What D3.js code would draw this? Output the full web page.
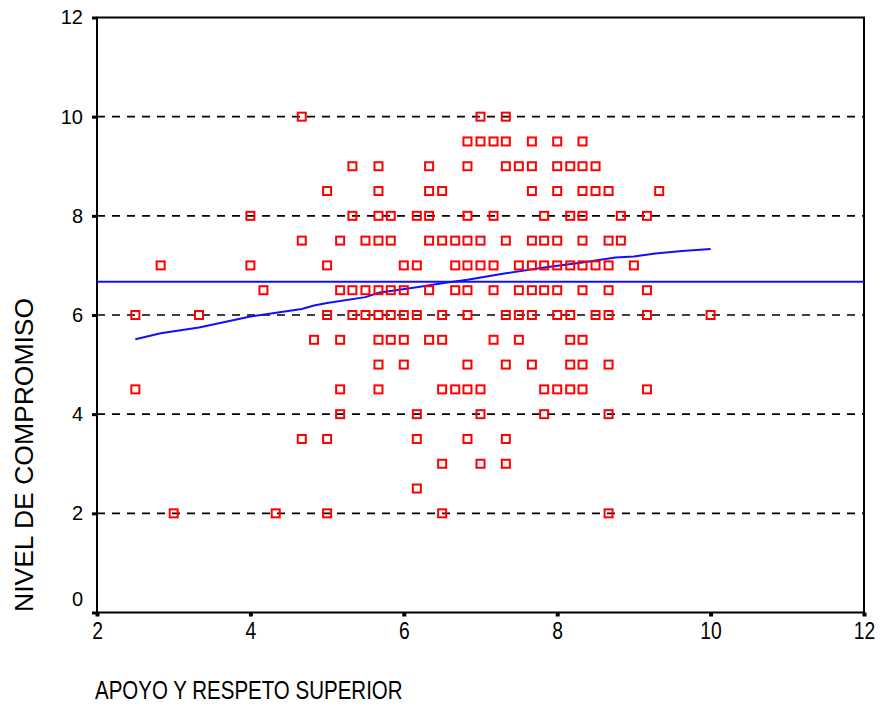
<!DOCTYPE html>
<html>
<head>
<meta charset="utf-8">
<script src="https://cdn.jsdelivr.net/npm/d3@7"></script>
<style>
  html, body { margin: 0; padding: 0; background: #ffffff; }
  svg { display: block; }
  text { font-family: Arial, "Liberation Sans", sans-serif; fill: #000; }
</style>
</head>
<body>
<svg id="chart" width="880" height="717"></svg>
<script>
// Nivel de compromiso (eje Y) y, para cada nivel, los valores de apoyo observados (eje X)
const niveles = [10, 9.5, 9, 8.5, 8, 7.5, 7, 6.5, 6, 5.5, 5, 4.5, 4, 3.5, 3, 2.5, 2];
const apoyoPorNivel = [
  [4.67, 7.0, 7.33],
  [6.83, 7.0, 7.17, 7.33, 7.67, 8.0, 8.33],
  [5.33, 5.67, 6.33, 6.83, 7.33, 7.5, 7.67, 8.0, 8.17, 8.33, 8.5],
  [5.0, 5.67, 6.33, 6.5, 7.67, 8.0, 8.33, 8.5, 8.67, 9.33],
  [4.0, 5.33, 5.67, 5.83, 6.17, 6.33, 6.83, 7.17, 7.83, 8.17, 8.33, 8.83, 9.17],
  [4.67, 5.17, 5.5, 5.67, 5.83, 6.33, 6.5, 6.67, 6.83, 7.0, 7.33, 7.67, 7.83, 8.0, 8.33, 8.67, 8.83],
  [2.83, 4.0, 5.0, 6.0, 6.17, 6.67, 6.83, 7.0, 7.17, 7.5, 7.67, 7.83, 8.0, 8.17, 8.33, 8.5, 8.67, 9.0],
  [4.17, 5.17, 5.33, 5.5, 5.67, 5.83, 6.0, 6.33, 6.67, 6.83, 7.17, 7.5, 7.67, 7.83, 8.0, 8.33, 8.67, 9.17],
  [2.5, 3.33, 5.0, 5.33, 5.5, 5.67, 5.83, 6.0, 6.17, 6.5, 6.83, 7.33, 7.5, 7.67, 8.0, 8.17, 8.5, 8.67, 9.17, 10.0],
  [4.83, 5.17, 5.67, 5.83, 6.0, 6.33, 6.5, 7.17, 7.5, 8.17, 8.33],
  [5.67, 6.0, 6.83, 7.33, 7.67, 8.17, 8.33, 8.67],
  [2.5, 5.17, 5.67, 6.5, 6.67, 6.83, 7.0, 7.83, 8.0, 8.17, 8.33, 9.17],
  [5.17, 6.17, 7.0, 7.83, 8.67],
  [4.67, 5.0, 6.17, 6.83, 7.33],
  [6.5, 7.0, 7.33],
  [6.17],
  [3.0, 4.33, 5.0, 6.5, 8.67]
];

// Curva de ajuste (suavizado) y línea de la media
const ajusteX = [2.5, 2.83, 3.33, 4.0, 4.67, 4.83, 5.0, 5.5, 5.67, 6.17, 6.5, 6.83, 7.33, 7.67, 7.83, 8.33, 8.76, 9.0, 9.28, 9.63, 10.0];
const ajusteY = [5.51, 5.63, 5.75, 5.97, 6.12, 6.19, 6.24, 6.36, 6.45, 6.56, 6.64, 6.71, 6.84, 6.92, 6.96, 7.06, 7.16, 7.18, 7.24, 7.29, 7.33];
const mediaCompromiso = 6.67;

const xTicks = [2, 4, 6, 8, 10, 12];
const yTicks = [0, 2, 4, 6, 8, 10, 12];
const lineasGuia = [2, 4, 6, 8, 10];

const tituloX = "APOYO Y RESPETO SUPERIOR";
const tituloY = "NIVEL DE COMPROMISO";

const puntos = [];
niveles.forEach((n, i) => apoyoPorNivel[i].forEach(a => puntos.push({ x: a, y: n })));

const svg = d3.select("#chart");
const plotL = 97, plotR = 864, plotT = 17.5, plotB = 612.5;
const x = d3.scaleLinear().domain([2, 12]).range([plotL, plotR]);
const y = d3.scaleLinear().domain([0, 12]).range([plotB, plotT]);

// Líneas guía discontinuas
svg.append("g").selectAll("line").data(lineasGuia).join("line")
  .attr("x1", plotL).attr("x2", plotR)
  .attr("y1", d => y(d)).attr("y2", d => y(d))
  .attr("stroke", "#000").attr("stroke-width", 1.6)
  .attr("stroke-dasharray", "8,7");

// Marco
svg.append("rect")
  .attr("x", plotL).attr("y", plotT)
  .attr("width", plotR - plotL).attr("height", plotB - plotT)
  .attr("fill", "none").attr("stroke", "#000").attr("stroke-width", 2);

// Eje Y
const ejeY = svg.append("g").attr("transform", `translate(${plotL},0)`)
  .call(d3.axisLeft(y).tickValues(yTicks).tickSize(5).tickSizeOuter(0).tickPadding(9));
ejeY.select(".domain").remove();
ejeY.selectAll(".tick line").attr("stroke-width", 3);
ejeY.selectAll(".tick text").attr("font-size", 20);
ejeY.selectAll(".tick").filter(d => d === 0).select("text").attr("dy", "-0.35em");

// Eje X
const ejeX = svg.append("g").attr("transform", `translate(0,${plotB})`)
  .call(d3.axisBottom(x).tickValues(xTicks).tickSize(4).tickSizeOuter(0).tickPadding(6));
ejeX.select(".domain").remove();
ejeX.selectAll(".tick line").attr("stroke-width", 4);
ejeX.selectAll(".tick text").attr("font-size", 23).attr("transform", "scale(0.84,1)");

// Línea de la media
svg.append("line")
  .attr("x1", plotL).attr("x2", plotR)
  .attr("y1", y(mediaCompromiso)).attr("y2", y(mediaCompromiso))
  .attr("stroke", "#1010ff").attr("stroke-width", 2);

// Curva de ajuste
svg.append("path")
  .datum(ajusteX.map((v, i) => [v, ajusteY[i]]))
  .attr("fill", "none").attr("stroke", "#1010ff").attr("stroke-width", 2)
  .attr("d", d3.line().x(d => x(d[0])).y(d => y(d[1])));

// Puntos
svg.append("g").selectAll("rect").data(puntos).join("rect")
  .attr("x", d => x(d.x) - 4).attr("y", d => y(d.y) - 4)
  .attr("width", 8).attr("height", 8)
  .attr("fill", "none").attr("stroke", "#ff0000").attr("stroke-width", 2);

// Títulos de los ejes
svg.append("text")
  .attr("transform", `translate(95,699) scale(0.82,1)`)
  .attr("font-size", 25).text(tituloX);

svg.append("text")
  .attr("transform", `translate(33,612) rotate(-90)`)
  .attr("font-size", 26.5).text(tituloY);
</script>
</body>
</html>
